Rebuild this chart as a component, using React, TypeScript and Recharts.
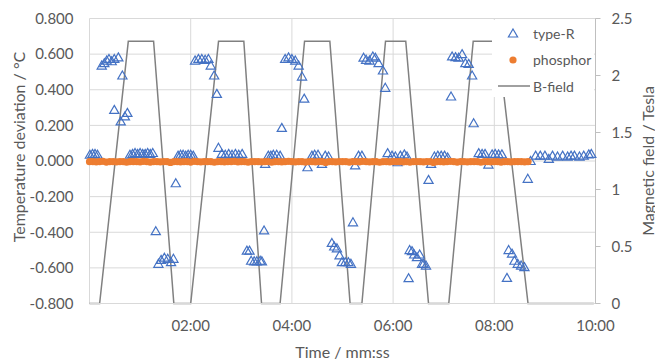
import React from "react";
import {
  CartesianGrid,
  ComposedChart,
  Legend,
  Line,
  Scatter,
  XAxis,
  YAxis,
} from "recharts";

const FONT = "Lato, 'Open Sans', sans-serif";
const TEXT = "#595959";
const GRID = "#d9d9d9";
const BLUE = "#4472c4";
const ORANGE = "#ed7d31";
const GREY = "#808080";

// time axis, seconds
const TIME_TICKS = [0, 120, 240, 360, 480, 600];
const TEMP_TICKS = [-0.8, -0.6, -0.4, -0.2, 0, 0.2, 0.4, 0.6, 0.8];
const FIELD_TICKS = [0, 0.5, 1, 1.5, 2, 2.5];

// type-R thermocouple: [time s, deviation °C]
const TYPE_R: [number, number][] = [
  [0.5, 0.035], [3.5, 0.04], [6.5, 0.04], [9.5, 0.035],
  [14.5, 0.536], [17.6, 0.549], [20.4, 0.564], [23.1, 0.573], [26.3, 0.56], [29.4, 0.573], [34.2, 0.582],
  [29.4, 0.287], [37, 0.222], [39, 0.48], [42, 0.25], [44.9, 0.27],
  [48, 0.035], [51, 0.04], [54, 0.045], [57, 0.04], [60, 0.045], [63, 0.04], [66, 0.04], [69, 0.045], [72, 0.04], [75, 0.045],
  [78.6, -0.394], [81.7, -0.577], [84.9, -0.555], [88.8, -0.543], [92.8, -0.549], [96.7, -0.568], [99.5, -0.549], [102.3, -0.125],
  [105, 0.03], [108, 0.035], [111, 0.035], [114, 0.03], [117, 0.035], [120, 0.035], [123, 0.03],
  [125.2, 0.564], [129.2, 0.573], [133.2, 0.573], [137.1, 0.568], [141, 0.573], [143.8, 0.536], [147.8, 0.48], [151, 0.377],
  [152.9, 0.074], [156.9, 0.04], [161, 0.035], [165, 0.04], [169, 0.035], [173, 0.04], [177, 0.035], [181, 0.04],
  [186.6, -0.503], [189.7, -0.503], [191.7, -0.56], [195.3, -0.563], [198.4, -0.563], [202.4, -0.56], [204.4, -0.563], [207, -0.39],
  [208.3, -0.016], [212, 0.03], [215, 0.03], [218, 0.035], [222, 0.035], [226, 0.03],
  [228, 0.186],
  [232, 0.573], [236, 0.582], [240, 0.573], [244, 0.564], [248, 0.536], [252, 0.474], [254.6, 0.35],
  [258.5, -0.035], [263.7, 0.03], [267, 0.035], [271, 0.035], [275.6, -0.016], [279.5, 0.03], [283.5, 0.025],
  [287.4, -0.46], [290.2, -0.48], [293.4, -0.49], [296.5, -0.53], [299.3, -0.568], [303.3, -0.568], [307, -0.568], [310, -0.577], [312.4, -0.344],
  [315, -0.025], [319, 0.03], [323, 0.03],
  [325, 0.58], [328, 0.568], [332, 0.564], [336, 0.587], [339, 0.58], [342.8, 0.549], [348, 0.508], [350.7, 0.411],
  [353.5, 0.044], [358.7, 0.03], [362.7, 0.025], [365.3, -0.007], [368.6, 0.03], [373.3, 0.037], [376.5, 0.025],
  [378.4, -0.658], [379.6, -0.5], [382.4, -0.506], [385, -0.525], [388.3, -0.54], [391.5, -0.525], [394.3, -0.577], [396.2, -0.577], [399, -0.587],
  [402, -0.106],
  [405, -0.016], [409, 0.025], [413, 0.03], [417, 0.03], [421, 0.03], [424.7, 0.02],
  [428.7, 0.362],
  [430, 0.587], [434, 0.583], [437.7, 0.58], [441.8, 0.6], [445.7, 0.549], [449.6, 0.545], [453.7, 0.48], [455.5, 0.212],
  [461.5, 0.044], [465.5, 0.04], [469, 0.04], [473, -0.02], [477.4, 0.037], [481, 0.04], [485, 0.037], [489, 0.037],
  [495, -0.656], [497, -0.5], [501, -0.52], [503.9, -0.56], [507.8, -0.577], [511.8, -0.587], [515.7, -0.596],
  [519.7, -0.1],
  [523, 0.0], [529, 0.03], [534.5, 0.03], [540, 0.03], [544.6, 0.012], [549, 0.03], [555, 0.025], [561, 0.03],
  [567, 0.025], [571, 0.03], [575, 0.03], [581, 0.025], [586, 0.03], [592, 0.037], [595, 0.04],
];

// phosphor thermometer, one reading every 4 s from 0 to 520 s
const PHOSPHOR_STEP = 4;
const PHOSPHOR = [
  -0.004, -0.003, -0.005, -0.004, -0.002, -0.006, -0.004, -0.003, -0.005, -0.004, -0.003, -0.007, -0.004,
  -0.003, -0.004, -0.005, -0.002, -0.004, -0.006, -0.003, -0.004, -0.005, -0.003, -0.004, -0.008, -0.003,
  -0.004, -0.005, -0.003, -0.004, -0.006, -0.002, -0.004, -0.005, -0.003, -0.004, -0.004, -0.007, -0.003,
  -0.004, -0.005, -0.003, -0.004, -0.002, -0.005, -0.004, -0.003, -0.006, -0.004, -0.003, -0.004, -0.005,
  -0.003, -0.004, -0.007, -0.004, -0.003, -0.005, -0.004, -0.002, -0.004, -0.005, -0.003, -0.004, -0.006,
  -0.003, -0.004, -0.005, -0.004, -0.003, -0.008, -0.004, -0.003, -0.005, -0.004, -0.003, -0.004, -0.006,
  -0.003, -0.004, -0.005, -0.002, -0.004, -0.005, -0.003, -0.004, -0.007, -0.004, -0.003, -0.005, -0.004,
  -0.003, -0.004, -0.005, -0.003, -0.006, -0.004, -0.003, -0.004, -0.005, -0.003, -0.004, -0.008, -0.004,
  -0.003, -0.005, -0.004, -0.002, -0.004, -0.006, -0.003, -0.004, -0.005, -0.003, -0.004, -0.004, -0.007,
  -0.003, -0.004, -0.005, -0.003, -0.004, -0.006, -0.004, -0.003, -0.005, -0.004, -0.003, -0.004, -0.005,
  -0.004,
];

// magnet ramp corners: time s / field T
const FIELD_TIME = [0, 12, 46, 76, 100, 120, 153, 183, 204, 226, 255, 285, 309, 323, 351, 375, 402, 426, 455, 484, 520, 598];
const FIELD_TESLA = [0, 0, 2.3, 2.3, 0, 0, 2.3, 2.3, 0, 0, 2.3, 2.3, 0, 0, 2.3, 2.3, 0, 0, 2.3, 2.3, 0, 0];

const typeRData = TYPE_R.map(([t, v]) => ({ t, v }));
const phosphorData = PHOSPHOR.map((v, i) => ({ t: i * PHOSPHOR_STEP, v }));
const fieldData = FIELD_TIME.map((t, i) => ({ t, b: FIELD_TESLA[i] }));

const mmss = (s: number) =>
  s === 0
    ? ""
    : `${String(Math.floor(s / 60)).padStart(2, "0")}:${String(s % 60).padStart(2, "0")}`;

const fieldLabel = (v: number) => String(v);

function Triangle(props: any) {
  const { cx, cy } = props;
  if (cx == null || cy == null) return null;
  return (
    <path
      d={`M${cx},${cy - 4.5}L${cx + 4.6},${cy + 3.5}L${cx - 4.6},${cy + 3.5}Z`}
      fill="none"
      stroke={BLUE}
      strokeWidth={1.2}
    />
  );
}

function Dot(props: any) {
  const { cx, cy } = props;
  if (cx == null || cy == null) return null;
  return <circle cx={cx} cy={cy} r={3.6} fill={ORANGE} />;
}

// axis titles sit at fixed spots; recharts passes its own x/y/angle, so use other names
function AxisTitle({ title, px, py, rot }: { title: string; px: number; py: number; rot: number }) {
  return (
    <text
      x={px}
      y={py}
      transform={rot ? `rotate(${rot} ${px} ${py})` : undefined}
      textAnchor="middle"
      fill={TEXT}
      fontSize={16}
      fontFamily={FONT}
    >
      {title}
    </text>
  );
}

function LegendBox() {
  const row = { height: 26.5, display: "flex", alignItems: "center" } as const;
  return (
    <div style={{ width: "100%", height: "100%", background: "#fff", fontFamily: FONT, fontSize: 14, color: TEXT }}>
      <div style={row}>
        <svg width={41} height={12}>
          <path d="M21,2L25.6,10L16.4,10Z" fill="none" stroke={BLUE} strokeWidth={1.2} />
        </svg>
        <span>type-R</span>
      </div>
      <div style={row}>
        <svg width={41} height={12}>
          <circle cx={21} cy={6} r={3.6} fill={ORANGE} />
        </svg>
        <span>phosphor</span>
      </div>
      <div style={row}>
        <svg width={41} height={12}>
          <line x1={6} x2={38} y1={6} y2={6} stroke={GREY} strokeWidth={1.5} />
        </svg>
        <span>B-field</span>
      </div>
    </div>
  );
}

export default function App() {
  const tick = { fill: TEXT, fontSize: 15, fontFamily: FONT };
  return (
    <div style={{ position: "absolute", left: 0, top: 0, width: 655, height: 362, background: "#fff" }}>
      <ComposedChart width={655} height={362} margin={{ top: 18.5, right: 0, bottom: 0, left: 0 }}>
        <CartesianGrid yAxisId="temp" stroke={GRID} ticks={TEMP_TICKS} />
        <XAxis
          type="number"
          dataKey="t"
          domain={[0, 600]}
          ticks={TIME_TICKS}
          tickFormatter={mmss}
          height={58.5}
          tick={tick}
          tickLine={false}
          tickSize={0}
          tickMargin={17}
          axisLine={{ stroke: GRID }}
          label={<AxisTitle title="Time / mm:ss" px={342.5} py={358} rot={0} />}
        />
        <YAxis
          yAxisId="temp"
          type="number"
          domain={[-0.8, 0.8]}
          ticks={TEMP_TICKS}
          tickFormatter={(v: number) => v.toFixed(3)}
          width={89.5}
          tick={tick}
          tickLine={false}
          tickSize={0}
          tickMargin={16}
          axisLine={false}
          label={<AxisTitle title="Temperature deviation / °C" px={24.5} py={147} rot={-90} />}
        />
        <YAxis
          yAxisId="field"
          orientation="right"
          type="number"
          domain={[0, 2.5]}
          ticks={FIELD_TICKS}
          tickFormatter={fieldLabel}
          width={59.5}
          tick={tick}
          tickSize={5}
          tickMargin={11}
          tickLine={{ stroke: "#bfbfbf" }}
          axisLine={{ stroke: "#bfbfbf" }}
          label={<AxisTitle title="Magnetic field / Tesla" px={653.5} py={161} rot={-90} />}
        />
        <Line
          yAxisId="field"
          data={fieldData}
          dataKey="b"
          type="linear"
          stroke={GREY}
          strokeWidth={1.5}
          dot={false}
          isAnimationActive={false}
        />
        <Scatter
          yAxisId="temp"
          data={typeRData}
          dataKey="v"
          shape={Triangle}
          isAnimationActive={false}
        />
        <Scatter
          yAxisId="temp"
          data={phosphorData}
          dataKey="v"
          shape={Dot}
          isAnimationActive={false}
        />
        <Legend
          layout="vertical"
          align="center"
          verticalAlign="middle"
          content={<LegendBox />}
          wrapperStyle={{ left: 492, top: 20, width: 102, height: 77, right: "auto", bottom: "auto" }}
        />
      </ComposedChart>
    </div>
  );
}
